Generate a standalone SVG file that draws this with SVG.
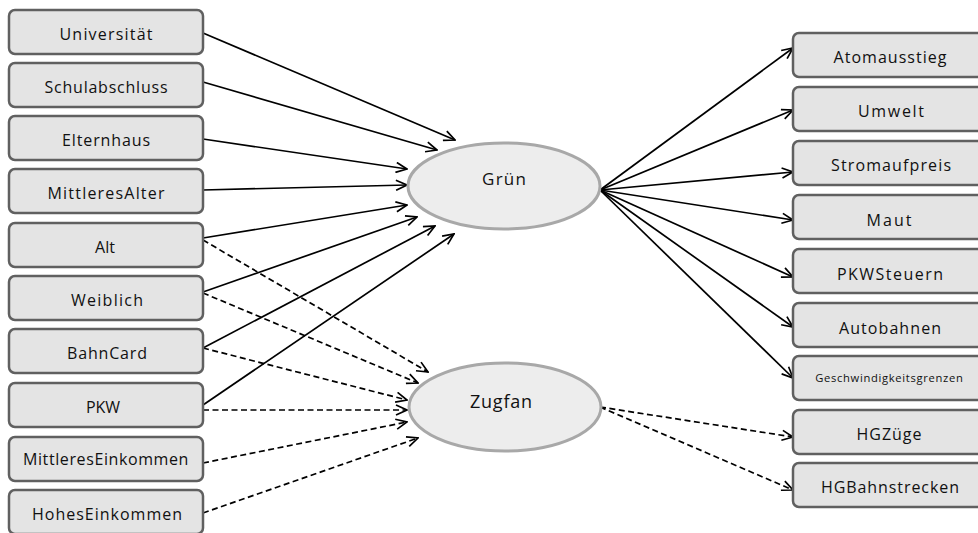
<svg xmlns="http://www.w3.org/2000/svg" width="978" height="533" viewBox="0 0 978 533">
<style>
.box rect{fill:#e4e4e4;stroke:#606060;stroke-width:2.5}
.box text{font-family:"Open Sans","Liberation Sans",sans-serif;font-size:16px;fill:#111;text-anchor:middle}
.latent ellipse{fill:#ededed;stroke:#a8a8a8;stroke-width:3}
.latent text{font-family:"Open Sans","Liberation Sans",sans-serif;fill:#111;text-anchor:middle}
.c line{stroke:#000;stroke-width:1.7;fill:none;marker-end:url(#arr)}
.c line.d{stroke-dasharray:6 3.5}
</style>
<defs>
<marker id="arr" viewBox="0 0 13 12" refX="12" refY="6" markerWidth="13" markerHeight="12" markerUnits="userSpaceOnUse" orient="auto">
<path d="M1,1 L12,6 L1,11" fill="none" stroke="#000" stroke-width="1.7"/>
</marker>
</defs>
<rect width="978" height="533" fill="#fff"/>
<g class="c" id="connectors">
<line x1="203" y1="33" x2="455" y2="140"/>
<line x1="203" y1="82" x2="437" y2="150"/>
<line x1="203" y1="139" x2="407" y2="169"/>
<line x1="203" y1="190" x2="407" y2="185"/>
<line x1="203" y1="238" x2="407" y2="205"/>
<line x1="203" y1="292" x2="417" y2="217"/>
<line x1="203" y1="348" x2="435" y2="226"/>
<line x1="203" y1="405" x2="454" y2="234"/>
<line class="d" x1="203" y1="240" x2="428" y2="372"/>
<line class="d" x1="203" y1="293" x2="418" y2="383"/>
<line class="d" x1="203" y1="348" x2="407" y2="400"/>
<line class="d" x1="203" y1="410" x2="407" y2="410"/>
<line class="d" x1="203" y1="463" x2="407" y2="422"/>
<line class="d" x1="203" y1="513" x2="418" y2="438"/>
<line x1="600" y1="190" x2="793" y2="48"/>
<line x1="600" y1="190" x2="793" y2="110"/>
<line x1="600" y1="190" x2="793" y2="172"/>
<line x1="600" y1="190" x2="793" y2="220"/>
<line x1="600" y1="190" x2="793" y2="277"/>
<line x1="600" y1="190" x2="793" y2="327"/>
<line x1="600" y1="190" x2="793" y2="378"/>
<line class="d" x1="600" y1="407" x2="793" y2="437"/>
<line class="d" x1="600" y1="407" x2="793" y2="490"/>
</g>
<g class="latent" id="gruen"><ellipse cx="504" cy="186" rx="96" ry="43"/><text x="504" y="185" font-size="17" textLength="44" lengthAdjust="spacing">Grün</text></g>
<g class="latent" id="zugfan"><ellipse cx="505" cy="407" rx="96" ry="44"/><text x="501" y="408" font-size="18" textLength="62" lengthAdjust="spacing">Zugfan</text></g>
<g class="box" id="universitaet"><rect x="9" y="10" width="194" height="44" rx="6"/><text x="106" y="40" textLength="93" lengthAdjust="spacing">Universität</text></g>
<g class="box" id="schulabschluss"><rect x="9" y="63" width="194" height="44" rx="6"/><text x="106" y="93" textLength="123" lengthAdjust="spacing">Schulabschluss</text></g>
<g class="box" id="elternhaus"><rect x="9" y="116" width="194" height="44" rx="6"/><text x="106" y="146" textLength="88" lengthAdjust="spacing">Elternhaus</text></g>
<g class="box" id="mittleresalter"><rect x="9" y="169" width="194" height="44" rx="6"/><text x="106" y="199" textLength="117" lengthAdjust="spacing">MittleresAlter</text></g>
<g class="box" id="alt"><rect x="9" y="223" width="194" height="44" rx="6"/><text x="105" y="253">Alt</text></g>
<g class="box" id="weiblich"><rect x="9" y="276" width="194" height="44" rx="6"/><text x="107" y="306" textLength="72" lengthAdjust="spacing">Weiblich</text></g>
<g class="box" id="bahncard"><rect x="9" y="329" width="194" height="44" rx="6"/><text x="107" y="359" textLength="80" lengthAdjust="spacing">BahnCard</text></g>
<g class="box" id="pkw"><rect x="9" y="383" width="194" height="44" rx="6"/><text x="103" y="413" font-size="17">PKW</text></g>
<g class="box" id="mittlereseinkommen"><rect x="9" y="437" width="194" height="44" rx="6"/><text x="106" y="465" font-size="12.5" letter-spacing="0.6">MittleresEinkommen</text></g>
<g class="box" id="hoheseinkommen"><rect x="9" y="490" width="194" height="44" rx="6"/><text x="107" y="520" textLength="150" lengthAdjust="spacing">HohesEinkommen</text></g>
<g class="box" id="atomausstieg"><rect x="793" y="33" width="194" height="44" rx="6"/><text x="890" y="63" textLength="113" lengthAdjust="spacing">Atomausstieg</text></g>
<g class="box" id="umwelt"><rect x="793" y="87" width="194" height="44" rx="6"/><text x="891" y="117" textLength="66" lengthAdjust="spacing">Umwelt</text></g>
<g class="box" id="stromaufpreis"><rect x="793" y="141" width="194" height="44" rx="6"/><text x="891" y="171" textLength="120" lengthAdjust="spacing">Stromaufpreis</text></g>
<g class="box" id="maut"><rect x="793" y="195" width="194" height="44" rx="6"/><text x="889" y="226" textLength="45" lengthAdjust="spacing">Maut</text></g>
<g class="box" id="pkwsteuern"><rect x="793" y="249" width="194" height="44" rx="6"/><text x="890" y="280" textLength="106" lengthAdjust="spacing">PKWSteuern</text></g>
<g class="box" id="autobahnen"><rect x="793" y="303" width="194" height="44" rx="6"/><text x="890" y="334" textLength="102" lengthAdjust="spacing">Autobahnen</text></g>
<g class="box" id="geschwindigkeitsgrenzen"><rect x="793" y="356" width="194" height="44" rx="6"/><text transform="translate(889,382) scale(0.7)" x="0" y="0" font-size="14" textLength="211" lengthAdjust="spacing">Geschwindigkeitsgrenzen</text></g>
<g class="box" id="hgzuege"><rect x="793" y="410" width="194" height="44" rx="6"/><text x="889" y="440" textLength="65" lengthAdjust="spacing">HGZüge</text></g>
<g class="box" id="hgbahnstrecken"><rect x="793" y="463" width="194" height="44" rx="6"/><text x="890" y="493" textLength="138" lengthAdjust="spacing">HGBahnstrecken</text></g>
</svg>
